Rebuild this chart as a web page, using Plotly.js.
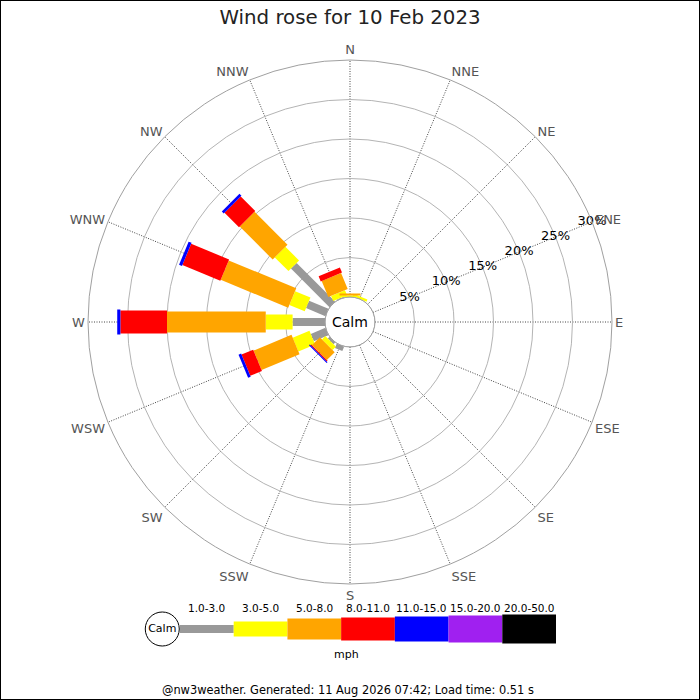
<!DOCTYPE html>
<html>
<head>
<meta charset="utf-8">
<script src="https://cdn.plot.ly/plotly-3.0.1.min.js"></script>
<style>html,body{margin:0;padding:0;background:#fff}#chart{width:700px;height:700px}</style>
</head>
<body>
<div id="chart"></div>
<script>
// ---- data ----
var directions = ['N','NNE','NE','ENE','E','ESE','SE','SSE','S','SSW','SW','WSW','W','WNW','NW','NNW'];
var speedBins = ['1.0-3.0','3.0-5.0','5.0-8.0','8.0-11.0','11.0-15.0','15.0-20.0','20.0-50.0'];
var speedUnit = 'mph';
// frequency (%) per direction for each speed bin
var pct_1_3   = [0,   0,   0,0,0,0,0,0,0, 0.6, 0.3, 2.0, 4.1, 2.65, 6.9, 0.1];
var pct_3_5   = [0.2, 0.3, 0,0,0,0,0,0,0, 0,   0.6, 2.3, 3.4, 2.1,  2.45,0.7];
var pct_5_8   = [0.25,0,   0,0,0,0,0,0,0, 0,   1.4, 5.2, 12.5,9.25, 5.9, 2.2];
var pct_8_11  = [0,   0,   0,0,0,0,0,0,0, 0,   0.15,1.6, 5.9, 5.2,  2.6, 0.7];
var pct_11_15 = [0,   0,   0,0,0,0,0,0,0, 0,   0.15,0.35,0.4, 0.4,  0.35,0];
var pct_15_20 = [0,0,0,0,0,0,0,0,0,0,0,0,0,0,0,0];
var pct_20_50 = [0,0,0,0,0,0,0,0,0,0,0,0,0,0,0,0];
var radialTicks = [5,10,15,20,25,30];
var titleText = 'Wind rose for 10 Feb 2023';
var footerText = '@nw3weather. Generated: 11 Aug 2026 07:42; Load time: 0.51 s';

// ---- styles ----
var series = [pct_1_3,pct_3_5,pct_5_8,pct_8_11,pct_11_15,pct_15_20,pct_20_50];
var colors = ['#999999','#ffff00','#ffa500','#ff0000','#0000ff','#a020f0','#000000'];
var widths = [8,15,21,23,25,27,29];
var FONT = 'DejaVu Sans, sans-serif';

var traces = [];
var cum = directions.map(function(){return 0;});
series.forEach(function(vals, k){
  var th = [], rr = [];
  vals.forEach(function(v, i){
    if (v > 0) {
      th.push(directions[i], directions[i], directions[i]);
      rr.push(cum[i], cum[i] + v, null);
      cum[i] += v;
    }
  });
  traces.push({
    type:'scatterpolar', mode:'lines', theta: th, r: rr,
    connectgaps:false, line:{color:colors[k], width:widths[k]},
    hoverinfo:'skip', showlegend:false, subplot:'polar'
  });
});

// radial tick labels along ENE
traces.push({
  type:'scatterpolar', mode:'text', subplot:'polar',
  theta: radialTicks.map(function(){return 'ENE';}),
  r: radialTicks,
  text: radialTicks.map(function(t){return t + '%';}),
  textposition:'middle center',
  textfont:{family:FONT, size:13, color:'#000'},
  hoverinfo:'skip', showlegend:false, cliponaxis:false
});

// legend swatches (cartesian helper axes)
speedBins.forEach(function(b, k){
  traces.push({
    type:'scatter', mode:'lines', xaxis:'x', yaxis:'y',
    x:[k, k+1], y:[0,0], line:{color:colors[k], width:widths[k]},
    hoverinfo:'skip', showlegend:false, cliponaxis:false
  });
});
traces.push({
  type:'scatter', mode:'markers+text', xaxis:'x', yaxis:'y',
  x:[-0.33], y:[0], text:['Calm'], textposition:'middle center',
  textfont:{family:FONT, size:11, color:'#000'},
  marker:{size:34, color:'#fff', line:{color:'#000', width:1}},
  hoverinfo:'skip', showlegend:false, cliponaxis:false
});

var annotations = speedBins.map(function(b, k){
  return {xref:'x', yref:'paper', x:k+0.5, y:(700-608)/700, text:b, showarrow:false,
          xanchor:'center', yanchor:'middle', font:{family:FONT, size:10.5, color:'#000'}};
});
annotations.push({xref:'paper', yref:'paper', x:346/700, y:(700-654)/700, text:speedUnit,
  showarrow:false, xanchor:'center', yanchor:'middle', font:{family:FONT, size:11, color:'#000'}});
annotations.push({xref:'paper', yref:'paper', x:348/700, y:(700-690)/700, text:footerText,
  showarrow:false, xanchor:'center', yanchor:'middle', font:{family:FONT, size:11.4, color:'#000'}});
annotations.push({xref:'paper', yref:'paper', x:350/700, y:(700-322)/700, text:'Calm',
  showarrow:false, xanchor:'center', yanchor:'middle', font:{family:FONT, size:14, color:'#000'}});

var R = 262, CX = 350, CY = 322, HOLE = 25;
var UNIT = (556-180)/7;
var layout = {
  width:700, height:700,
  margin:{l:0,r:0,t:0,b:0},
  paper_bgcolor:'#fff',
  font:{family:FONT},
  title:{text:titleText, x:0.5, xanchor:'center', y:1-17/700, yanchor:'middle',
         font:{family:FONT, size:19.8, color:'#222'}},
  showlegend:false,
  polar:{
    domain:{x:[(CX-R)/700,(CX+R)/700], y:[(700-CY-R)/700,(700-CY+R)/700]},
    bgcolor:'#fff',
    hole: HOLE/R,
    radialaxis:{range:[0,30], tickvals:radialTicks, showticklabels:false, ticks:'',
                showline:false, gridcolor:'#b4b4b4', gridwidth:1, angle:22.5},
    angularaxis:{type:'category', categoryarray:directions, rotation:90, direction:'clockwise',
                 showline:true, linecolor:'#a0a0a0', linewidth:1, ticks:'',
                 gridcolor:'#444', gridwidth:1, griddash:'1px,1.5px',
                 tickfont:{family:FONT, size:13, color:'#555'}}
  },
  xaxis:{domain:[135/700,556/700], range:[-45/UNIT,7], visible:false, fixedrange:true},
  yaxis:{domain:[(700-644)/700,(700-614)/700], range:[-1,1], visible:false, fixedrange:true},
  annotations:annotations,
  shapes:[
    {type:'circle', xref:'paper', yref:'paper', x0:(CX-HOLE)/700, x1:(CX+HOLE)/700,
     y0:(700-CY-HOLE)/700, y1:(700-CY+HOLE)/700, line:{color:'#aaa', width:1}, fillcolor:'#fff', layer:'below'},
    {type:'rect', xref:'paper', yref:'paper', x0:0, x1:1, y0:0, y1:1, line:{color:'#000', width:2}}
  ]
};

Plotly.newPlot('chart', traces, layout, {staticPlot:true, displayModeBar:false});
</script>
</body>
</html>
